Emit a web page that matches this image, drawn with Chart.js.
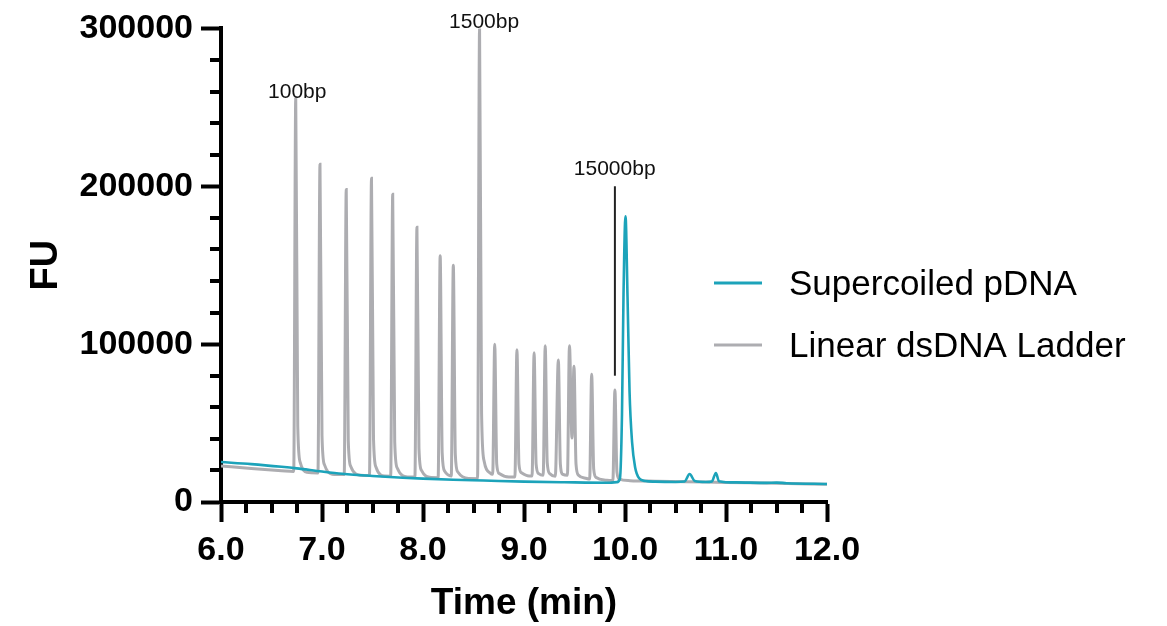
<!DOCTYPE html>
<html>
<head>
<meta charset="utf-8">
<script src="https://cdn.jsdelivr.net/npm/chart.js@4.4.1/dist/chart.umd.min.js"></script>
<style>
  body { margin: 0; background: #fff; }
  #wrap { width: 1167px; height: 626px; }
</style>
</head>
<body>
<div id="wrap"><canvas id="lineChart"></canvas></div>
<script>
// Supercoiled pDNA trace
const pdnaTime = [6.00, 6.30, 6.60, 6.75, 7.00, 7.20, 7.50, 7.80, 8.00, 8.30, 8.60, 9.00, 9.40, 9.85, 9.92,
  9.95, 9.97, 9.985, 10.005, 10.025, 10.045, 10.07, 10.10, 10.14, 10.20, 10.30, 10.50, 10.59, 10.64, 10.69,
  10.80, 10.86, 10.90, 10.93, 11.10, 11.40, 11.50, 11.60, 12.00];
const pdnaFU = [25300, 24000, 22300, 21300, 19300, 17900, 16500, 15400, 14800, 14100, 13600, 12900, 12500, 12200, 12600,
  15000, 55000, 130000, 181000, 130000, 70000, 38000, 22000, 15000, 13300, 12900, 12700, 13000, 17700, 13300,
  12700, 13000, 18400, 13200, 12400, 12100, 12300, 11900, 11400];

// Linear dsDNA ladder trace
const ladderTime = [6.00, 6.30, 6.60, 6.72, 6.74, 6.76, 6.785, 6.85,
  6.96, 6.98, 7.00, 7.025, 7.10,
  7.22, 7.24, 7.26, 7.285, 7.38,
  7.47, 7.49, 7.51, 7.535, 7.62,
  7.68, 7.70, 7.72, 7.745, 7.85,
  7.92, 7.94, 7.96, 7.985, 8.08,
  8.15, 8.17, 8.19, 8.215, 8.28,
  8.30, 8.32, 8.345, 8.45,
  8.54, 8.56, 8.58, 8.605, 8.67,
  8.69, 8.71, 8.73, 8.755, 8.85,
  8.91, 8.93, 8.95, 8.975, 9.05,
  9.08, 9.10, 9.12, 9.145, 9.19,
  9.21, 9.23, 9.255, 9.31,
  9.34, 9.36, 9.385, 9.43,
  9.45, 9.475, 9.495, 9.515, 9.54, 9.62,
  9.65, 9.67, 9.69, 9.715, 9.82,
  9.88, 9.90, 9.92, 9.945, 10.05,
  10.30, 10.60, 11.00, 11.50, 12.00];
const ladderFU = [22800, 21200, 19800, 19300, 256000, 48000, 25000, 18800,
  18400, 214000, 42000, 23500, 17600,
  17400, 198000, 39000, 22500, 17000,
  16800, 205000, 40000, 22000, 16400,
  16300, 195000, 38000, 21500, 15900,
  15800, 174000, 34000, 20000, 15500,
  15400, 156000, 31000, 19500, 16500,
  150000, 30000, 19000, 14900,
  14800, 300000, 56000, 26000, 18000,
  17500, 100000, 24000, 18000, 15900,
  15900, 96500, 24000, 18500, 16500,
  16500, 94500, 24000, 18000, 17000,
  99000, 25000, 18000, 16300,
  90000, 24000, 17500, 17000,
  99000, 40500, 86000, 24000, 17000, 14900,
  14500, 81000, 21000, 15500, 13800,
  13600, 71000, 19000, 14500, 13500,
  13200, 12900, 12400, 11900, 11200];

const seriesNames = ['Supercoiled pDNA', 'Linear dsDNA Ladder'];
const xTicks = [6, 7, 8, 9, 10, 11, 12];
const yTicks = [0, 100000, 200000, 300000];

// peak labels
const markText = ['100bp', '1500bp', '15000bp'];
const markTime = [6.755, 8.605, 9.898];
const markFU = [256000, 300000, 207000];
const markLineTime = 9.90;
const markLineFU = [200000, 80000];

const teal = '#1ca3ba';
const grey = '#adadb1';
const fontFamily = '"Liberation Sans", Arial, sans-serif';

Chart.defaults.font.family = fontFamily;
Chart.defaults.color = '#000';

const toPoints = (xs, ys) => xs.map((x, i) => ({ x: x, y: ys[i] }));

const extras = {
  id: 'extras',
  afterDraw(chart) {
    const ctx = chart.ctx;
    const x = chart.scales.x;
    const y = chart.scales.y;
    ctx.save();
    // minor ticks
    ctx.strokeStyle = '#000';
    ctx.lineWidth = 4;
    ctx.beginPath();
    for (let v = 6.25; v < 12; v += 0.25) {
      if (Math.abs(v - Math.round(v)) < 1e-6) continue;
      const px = Math.round(x.getPixelForValue(v));
      ctx.moveTo(px, y.bottom);
      ctx.lineTo(px, y.bottom + 11);
    }
    for (let v = 20000; v < 300000; v += 20000) {
      if (v % 100000 === 0) continue;
      const py = Math.round(y.getPixelForValue(v));
      ctx.moveTo(x.left, py);
      ctx.lineTo(x.left - 11, py);
    }
    ctx.stroke();

    // peak annotations
    ctx.fillStyle = '#111';
    ctx.font = '21px ' + fontFamily;
    ctx.textAlign = 'center';
    ctx.textBaseline = 'alphabetic';
    markText.forEach((t, i) => {
      ctx.fillText(t, x.getPixelForValue(markTime[i]), y.getPixelForValue(markFU[i]));
    });
    ctx.strokeStyle = '#222';
    ctx.lineWidth = 2;
    ctx.beginPath();
    ctx.moveTo(x.getPixelForValue(markLineTime), y.getPixelForValue(markLineFU[0]));
    ctx.lineTo(x.getPixelForValue(markLineTime), y.getPixelForValue(markLineFU[1]));
    ctx.stroke();

    // legend
    const legendColors = [teal, grey];
    const legendY = [283, 345];
    ctx.font = '35px ' + fontFamily;
    ctx.textAlign = 'left';
    ctx.textBaseline = 'middle';
    seriesNames.forEach((name, i) => {
      ctx.strokeStyle = legendColors[i];
      ctx.lineWidth = 3;
      ctx.beginPath();
      ctx.moveTo(714, legendY[i]);
      ctx.lineTo(762, legendY[i]);
      ctx.stroke();
      ctx.fillStyle = '#000';
      ctx.fillText(name, 789, legendY[i] + 2);
    });
    ctx.restore();
  }
};

const ctxL = document.getElementById('lineChart').getContext('2d');
const myLineChart = new Chart(ctxL, {
  type: 'line',
  data: {
    datasets: [{
      label: seriesNames[0],
      data: toPoints(pdnaTime, pdnaFU),
      borderColor: teal,
      borderWidth: 2.6,
      pointRadius: 0,
      cubicInterpolationMode: 'monotone'
    }, {
      label: seriesNames[1],
      data: toPoints(ladderTime, ladderFU),
      borderColor: grey,
      borderWidth: 3,
      pointRadius: 0,
      cubicInterpolationMode: 'monotone'
    }]
  },
  options: {
    responsive: true,
    maintainAspectRatio: false,
    animation: false,
    layout: { padding: { top: 25, right: 340, left: 0, bottom: 0 } },
    plugins: { legend: { display: false }, tooltip: { enabled: false } },
    scales: {
      x: {
        type: 'linear',
        min: 6,
        max: 12,
        afterBuildTicks: s => { s.ticks = xTicks.map(v => ({ value: v })); },
        afterFit: s => { s.height = 124; },
        ticks: {
          callback: v => Number(v).toFixed(1),
          font: { size: 34, weight: 'bold' },
          padding: 8,
          maxRotation: 0,
          autoSkip: false
        },
        grid: { drawOnChartArea: false, drawTicks: true, tickLength: 20, tickWidth: 4, tickColor: '#000' },
        border: { display: true, color: '#000', width: 4 },
        title: {
          display: true,
          text: 'Time (min)',
          font: { size: 37, weight: 'bold' },
          padding: { top: 0, bottom: 0 }
        }
      },
      y: {
        min: 0,
        max: 300000,
        afterBuildTicks: s => { s.ticks = yTicks.map(v => ({ value: v })); },
        afterFit: s => { s.width = 221; },
        ticks: {
          callback: v => String(v),
          font: { size: 34, weight: 'bold' },
          padding: 8
        },
        grid: { drawOnChartArea: false, drawTicks: true, tickLength: 20, tickWidth: 4, tickColor: '#000' },
        border: { display: true, color: '#000', width: 4 },
        title: {
          display: true,
          text: 'FU',
          font: { size: 38, weight: 'bold' },
          padding: { top: 24, bottom: 0 }
        }
      }
    }
  },
  plugins: [extras]
});
</script>
</body>
</html>
